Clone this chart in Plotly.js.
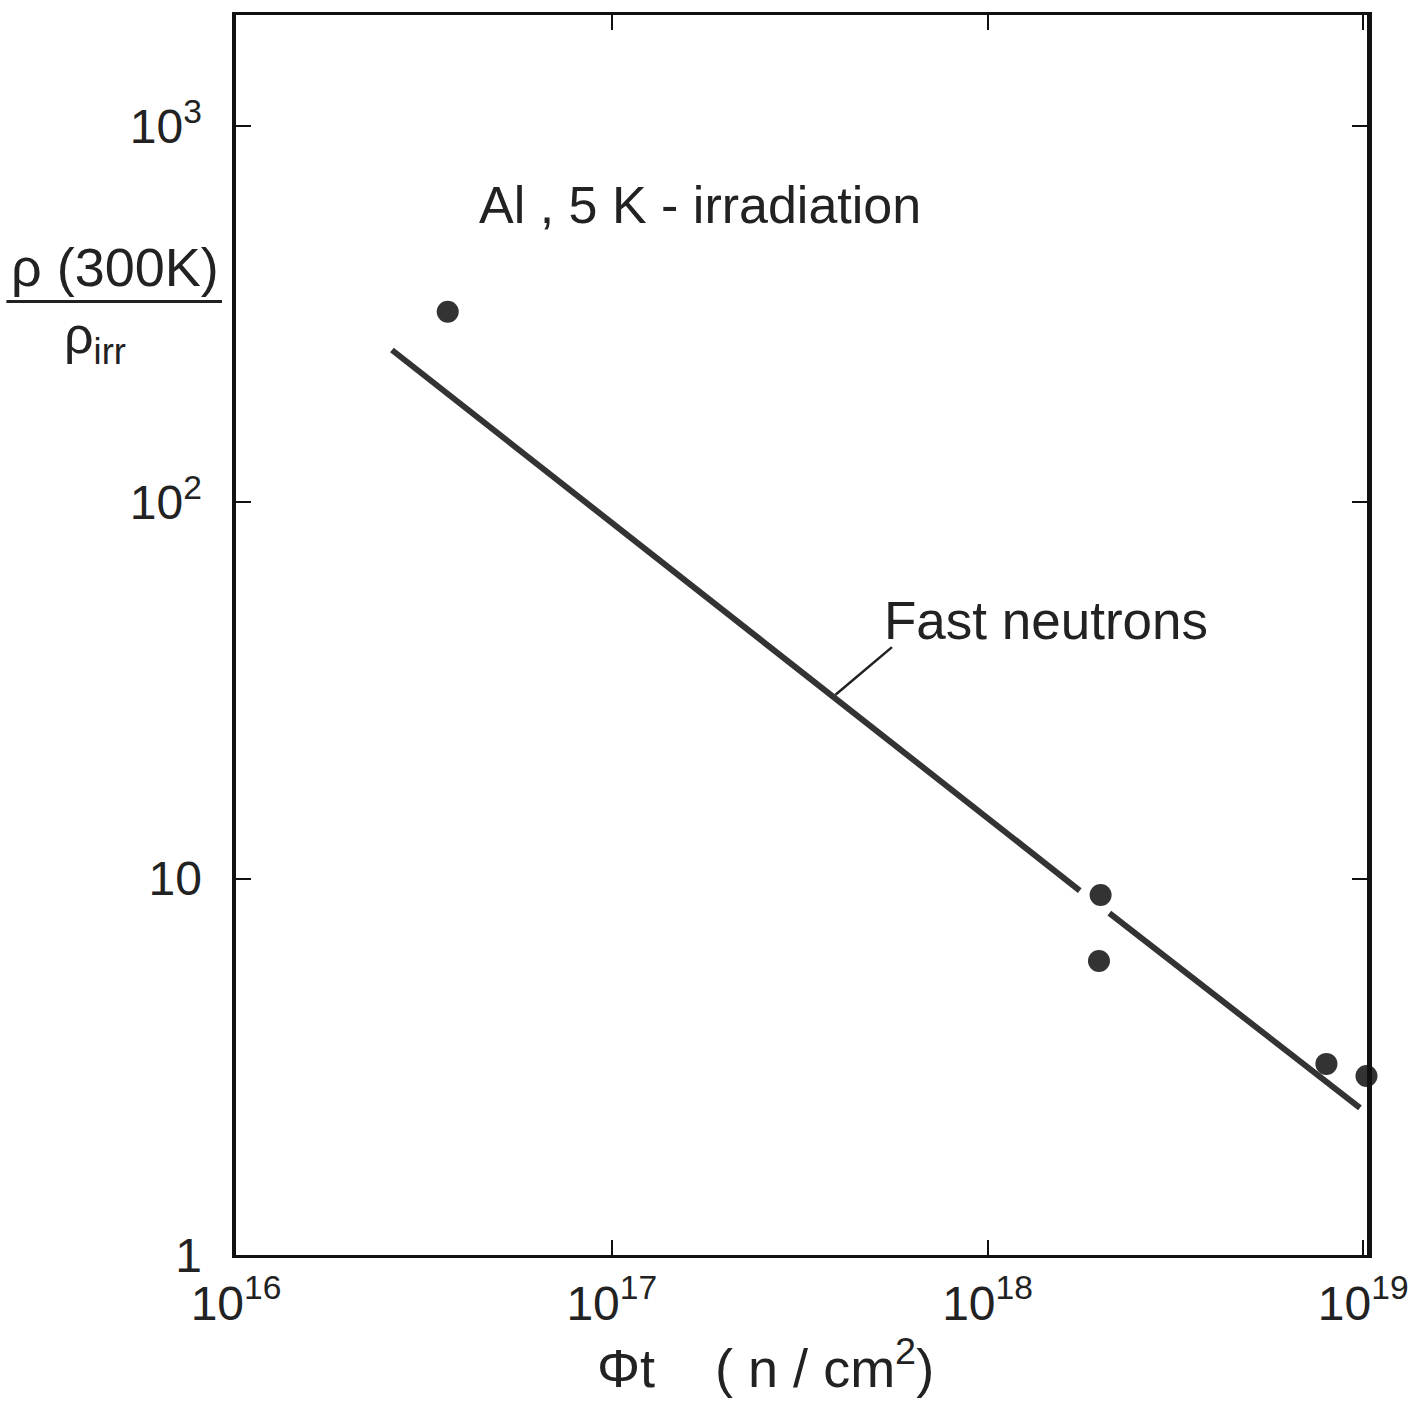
<!DOCTYPE html>
<html>
<head>
<meta charset="utf-8">
<script src="https://cdn.plot.ly/plotly-3.0.1.min.js"></script>
<style>html,body{margin:0;padding:0;background:#fff;}#chart{width:1409px;height:1407px;}</style>
</head>
<body>
<div id="chart"></div>
<script>
// Measured data points (fluence n/cm^2, resistivity ratio)
const pointFluence = [3.66e16, 2.0e18, 1.98e18, 7.98e18, 1.02e19];
const pointRatio   = [321, 9.05, 6.04, 3.22, 2.99];

// "Fast neutrons" line (drawn with a gap around the 2e18 point)
const lineFluence = [2.6e16, 1.76e18, null, 2.11e18, 9.8e18];
const lineRatio   = [254, 9.3, null, 8.1, 2.46];

// Leader line target on the fast-neutron line
const leaderFluence = 3.94e17;
const leaderRatio = 30.8;

const xTickVals = [1e16, 1e17, 1e18, 1e19];
const xTickText = ['10<sup>16</sup>', '10<sup>17</sup>', '10<sup>18</sup>', '10<sup>19</sup>'];
const yTickVals = [1, 10, 100, 1000];
const yTickText = ['1', '10', '10<sup>2</sup>', '10<sup>3</sup>'];

const FONT = 'Liberation Sans, Arial, sans-serif';
const INK = '#222';

const traces = [
  {
    x: lineFluence, y: lineRatio, type: 'scatter', mode: 'lines',
    line: {color: '#333', width: 6}, connectgaps: false, hoverinfo: 'skip'
  },
  {
    x: pointFluence, y: pointRatio, type: 'scatter', mode: 'markers',
    marker: {color: '#333', size: 22}, cliponaxis: false
  }
];

const axisCommon = {
  type: 'log', showgrid: false, zeroline: false,
  showline: true, linecolor: '#111', mirror: 'ticks',
  ticks: 'inside', ticklen: 15, tickwidth: 2, tickcolor: '#111',
  tickfont: {family: FONT, size: 48, color: INK}
};

const layout = {
  width: 1409, height: 1407,
  margin: {l: 236, r: 42, t: 15, b: 152},
  paper_bgcolor: '#fff', plot_bgcolor: '#fff',
  showlegend: false,
  xaxis: Object.assign({}, axisCommon, {
    range: [16, 19.01], linewidth: 3,
    tickmode: 'array', tickvals: xTickVals, ticktext: xTickText,
    ticklabelstandoff: 4
  }),
  yaxis: Object.assign({}, axisCommon, {
    range: [0, 3.295], linewidth: 4.5,
    tickmode: 'array', tickvals: yTickVals, ticktext: yTickText,
    ticklabelstandoff: 20
  }),
  annotations: [
    {xref: 'paper', yref: 'paper', x: 0.468, y: -0.088, xanchor: 'center', yanchor: 'middle',
     text: 'Φt&nbsp;&nbsp;&nbsp;&nbsp;(&nbsp;n&nbsp;/&nbsp;cm<sup>2</sup>)', showarrow: false,
     font: {family: FONT, size: 54, color: INK}},
    {xref: 'paper', yref: 'paper', x: 0.4106, y: 0.847, xanchor: 'center', yanchor: 'middle',
     text: 'Al , 5 K - irradiation', showarrow: false, font: {family: FONT, size: 52, color: INK}},
    {xref: 'paper', yref: 'paper', x: 0.716, y: 0.512, xanchor: 'center', yanchor: 'middle',
     text: 'Fast neutrons', showarrow: false, font: {family: FONT, size: 53, color: INK}},
    {xref: 'x', yref: 'y', x: Math.log10(leaderFluence), y: Math.log10(leaderRatio),
     text: '', showarrow: true, arrowhead: 0, arrowwidth: 2.5, arrowcolor: '#222',
     ax: 58, ay: -49, standoff: 0, startstandoff: 0},
    {xref: 'paper', yref: 'paper', x: -0.107, y: 0.797, xanchor: 'center', yanchor: 'middle',
     text: 'ρ (300K)', showarrow: false, font: {family: FONT, size: 54, color: INK}},
    {xref: 'paper', yref: 'paper', x: -0.125, y: 0.739, xanchor: 'center', yanchor: 'middle',
     text: 'ρ<sub>irr</sub>', showarrow: false, font: {family: FONT, size: 52, color: INK}}
  ],
  shapes: [
    {type: 'line', xref: 'paper', yref: 'paper', x0: -0.203, x1: -0.0124, y0: 0.769, y1: 0.769,
     line: {color: '#222', width: 3}}
  ]
};

Plotly.newPlot('chart', traces, layout, {displayModeBar: false, staticPlot: true});
</script>
</body>
</html>
